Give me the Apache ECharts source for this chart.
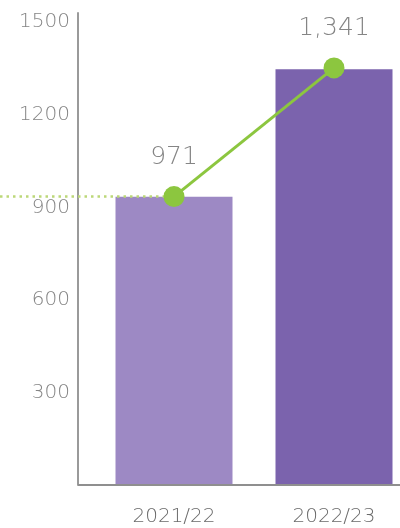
<!DOCTYPE html>
<html>
<head>
<meta charset="utf-8">
<script src="https://cdn.jsdelivr.net/npm/echarts@6/dist/echarts.min.js"></script>
<style>
html,body{margin:0;padding:0;background:#fff;}
#chart{width:400px;height:528px;}
</style>
</head>
<body>
<div id="chart"></div>
<script>
const categories = ['2021/22', '2022/23'];
const barValues = [934, 1348];
const lineValues = [935, 1352];
const pointLabels = ['971', '1,341'];
const yTicks = [300, 600, 900, 1200, 1500];

const FONT = 'DejaVu Sans';
const chart = echarts.init(document.getElementById('chart'), null, {renderer: 'canvas'});
chart.setOption({
  animation: false,
  backgroundColor: '#ffffff',
  grid: {left: 94, top: 13, width: 320, bottom: 43, containLabel: false, outerBoundsMode: 'none'},
  xAxis: {
    type: 'category',
    data: categories,
    axisLine: {show: false},
    axisTick: {show: false},
    axisLabel: {color: '#6a6a6a', fontSize: 20, fontFamily: FONT, fontWeight: 300, margin: 22}
  },
  yAxis: {
    type: 'value',
    min: 0,
    max: 1530,
    interval: 300,
    offset: 16,
    splitLine: {show: false},
    axisTick: {show: false},
    axisLine: {show: true, lineStyle: {color: '#9a9a9a', width: 2}},
    axisLabel: {
      color: '#858585', fontSize: 20, fontFamily: FONT, fontWeight: 300, margin: 8,
      showMinLabel: false, showMaxLabel: false,
      formatter: function (v) { return yTicks.indexOf(v) >= 0 ? String(v) : ''; }
    }
  },
  series: [
    {
      type: 'bar',
      z: 2,
      data: barValues.map(function (v, i) {
        return {value: v, itemStyle: {color: i === 0 ? '#9d89c4' : '#7b63ad'}};
      }),
      barWidth: 117,
      markLine: {
        silent: true,
        symbol: ['none', 'none'],
        label: {show: false},
        lineStyle: {color: '#8f8f8f', width: 2, type: 'solid'},
        data: [[{x: 78, coord: [categories[0], 0]}, {x: 400, coord: [categories[1], 0]}]]
      }
    },
    {
      type: 'line',
      z: 4,
      data: lineValues,
      clip: false,
      symbol: 'circle',
      symbolSize: 21,
      itemStyle: {color: '#8cc63f'},
      lineStyle: {color: '#8cc63f', width: 3},
      label: {
        show: true,
        position: 'top',
        distance: 16,
        color: '#858585',
        fontSize: 25,
        fontFamily: FONT,
        fontWeight: 300,
        formatter: function (p) { return pointLabels[p.dataIndex]; }
      },
      markLine: {
        silent: true,
        z: 3,
        symbol: ['none', 'none'],
        label: {show: false},
        lineStyle: {color: '#bcd878', width: 2.5, type: [2.5, 4]},
        data: [[{x: 0, coord: [categories[0], lineValues[0]]}, {coord: [categories[0], lineValues[0]]}]]
      }
    }
  ]
});
</script>
</body>
</html>
